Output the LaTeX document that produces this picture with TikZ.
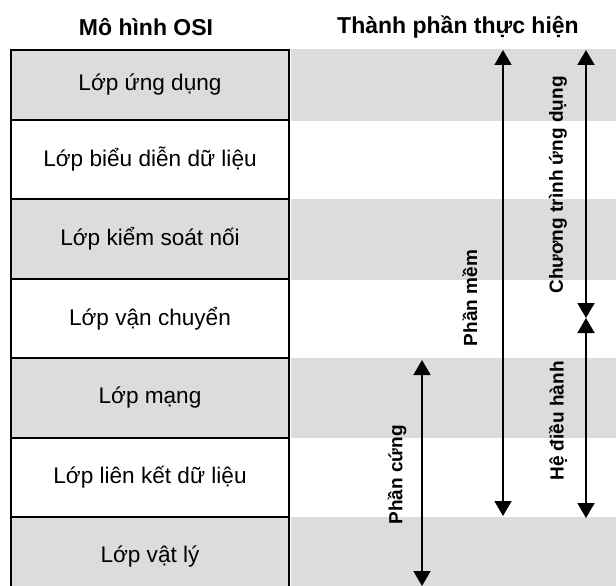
\documentclass[tikz,border=0pt]{standalone}
\usepackage{fontspec}
\setmainfont{Liberation Sans}
\usepackage{xcolor}
\usetikzlibrary{arrows.meta,positioning}
\definecolor{bandgray}{RGB}{220,220,220}

\begin{document}
\begin{tikzpicture}[x=1pt,y=-1pt,
  layer/.style={draw, line width=2pt, minimum width=278pt, inner sep=0pt, font=\fontsize{22.6}{26}\selectfont},
  head/.style={font=\bfseries\fontsize{23}{27}\selectfont},
  span/.style={rotate=90, inner sep=0pt, font=\bfseries\fontsize{19}{22}\selectfont},
  spanarrow/.style={line width=1.6pt, {Triangle[length=15pt,width=17pt]}-{Triangle[length=15pt,width=17pt]}}]
\useasboundingbox (0,0) rectangle (616,586);
% bands on the right
\fill[bandgray] (291,49) rectangle (616,121);
\fill[bandgray] (291,199) rectangle (616,280);
\fill[bandgray] (291,358) rectangle (616,438);
\fill[bandgray] (291,517) rectangle (616,596);
% headings
\node[head] (osi) at (146,27) {Mô hình OSI};
\node[head] (impl) at (458,27) {Thành phần thực hiện};
% OSI layers
\node[layer, fill=bandgray, minimum height=70pt] (app) at (150,85) {Lớp ứng dụng};
\node[layer, fill=white, minimum height=79pt] (pres) at (150,159.5) {Lớp biểu diễn dữ liệu};
\node[layer, fill=bandgray, minimum height=80pt] (sess) at (150,239) {Lớp kiểm soát nối};
\node[layer, fill=white, minimum height=79pt] (trans) at (150,318.5) {Lớp vận chuyển};
\node[layer, fill=bandgray, minimum height=80pt] (net) at (150,398) {Lớp mạng};
\node[layer, fill=white, minimum height=79pt] (link) at (150,477.5) {Lớp liên kết dữ liệu};
\node[layer, fill=bandgray, minimum height=79pt] (phys) at (150,556.5) {Lớp vật lý};
% span ends
\coordinate (soft-top) at (503,50);
\coordinate (soft-bot) at (503,516);
\coordinate (apps-top) at (586,50);
\coordinate (apps-bot) at (586,318);
\coordinate (os-top) at (586,318);
\coordinate (os-bot) at (586,518);
\coordinate (hard-top) at (422,360);
\coordinate (hard-bot) at (422,586);
\draw[spanarrow] (soft-top) -- (soft-bot);
\draw[spanarrow] (apps-top) -- (apps-bot);
\draw[spanarrow] (os-top) -- (os-bot);
\draw[spanarrow] (hard-top) -- (hard-bot);
\node[span] (soft) at (470,298) {Phần mềm};
\node[span] (apps) at (558,185) {Chương trình ứng dụng};
\node[span] (os) at (558,421) {Hệ điều hành};
\node[span] (hard) at (397,475) {Phần cứng};
\end{tikzpicture}
\end{document}
